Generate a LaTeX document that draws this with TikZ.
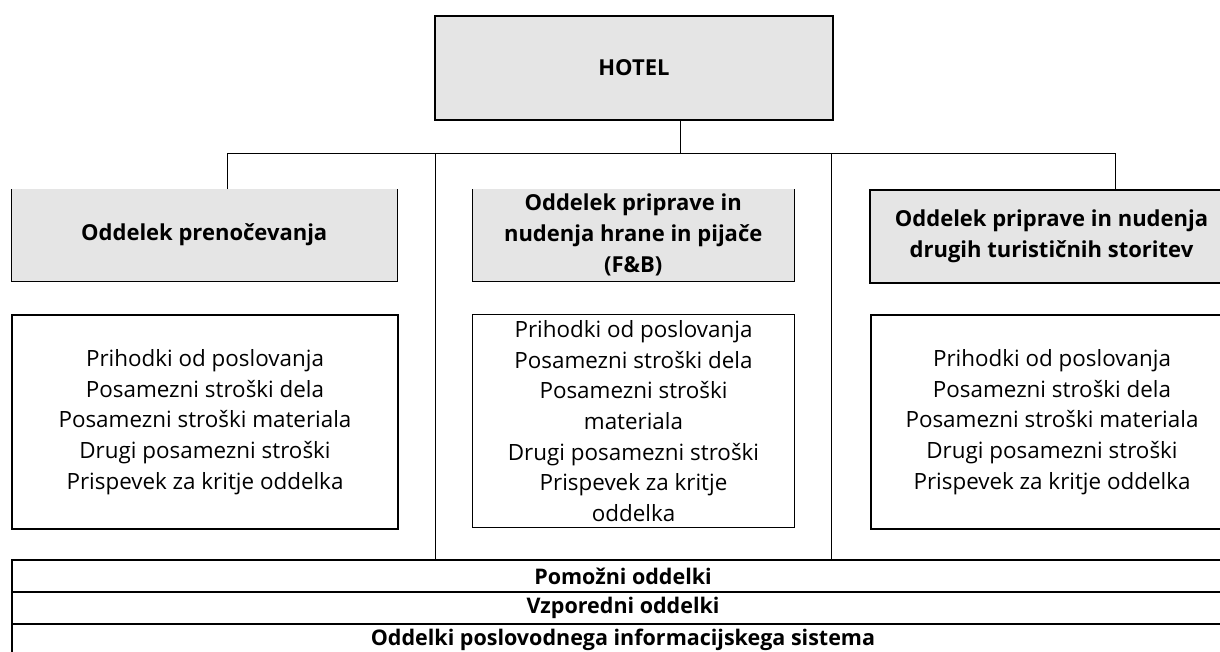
\documentclass[tikz,border=0pt]{standalone}
\usepackage{fontspec}
\setmainfont{Open Sans}
\usetikzlibrary{calc}
\definecolor{headgray}{gray}{0.9}
\tikzset{
  unitbox/.style   = {shape=rectangle, anchor=north west,
                      inner sep=0pt, align=center},
  headbox/.style   = {unitbox, fill=headgray,
                      font=\fontsize{22}{31}\selectfont\bfseries},
  headthick/.style = {headbox, draw, line width=2pt},
  listbox/.style   = {unitbox, draw, font=\fontsize{22.4}{30.6}\selectfont},
  listthick/.style = {listbox, line width=2pt},
  listthin/.style  = {listbox, line width=1pt},
  barbox/.style    = {unitbox, draw, line width=2pt,
                      minimum width=1222pt, minimum height=32pt,
                      font=\fontsize{21.5}{26}\selectfont\bfseries},
  link/.style      = {line width=1pt},
}

\begin{document}
\begin{tikzpicture}[x=1pt,y=-1pt]
  \useasboundingbox (0,0) rectangle (1220,651);
  \clip (0,0) rectangle (1220,651);

  % top
  \node (hotel) [headthick, minimum width=398pt, minimum height=104pt]
    at (434,15) {HOTEL};

  % departments
  \node (head1) [headbox, minimum width=386pt, minimum height=92pt]
    at (11,189) {Oddelek prenočevanja};
  \node (head2) [headbox, minimum width=322pt, minimum height=92pt]
    at (472,189) {Oddelek priprave in\\nudenja hrane in pijače\\(F\&B)};
  \node (head3) [headthick, minimum width=363pt, minimum height=93pt]
    at (869,189) {Oddelek priprave in nudenja\\drugih turističnih storitev};
  \draw[link] (head1.north west) -- (head1.south west)
              -- (head1.south east) -- (head1.north east);
  \draw[link] (head2.north west) -- (head2.south west)
              -- (head2.south east) -- (head2.north east);

  % cost lists
  \node (list1) [listthick, minimum width=386pt, minimum height=214pt]
    at (11,314) {Prihodki od poslovanja\\Posamezni stroški dela\\
      Posamezni stroški materiala\\Drugi posamezni stroški\\
      Prispevek za kritje oddelka};
  \node (list2) [listthin, minimum width=322pt, minimum height=213pt]
    at (472,314) {Prihodki od poslovanja\\Posamezni stroški dela\\
      Posamezni stroški\\materiala\\Drugi posamezni stroški\\
      Prispevek za kritje\\oddelka};
  \node (list3) [listthick, minimum width=362pt, minimum height=214pt]
    at (870,314) {Prihodki od poslovanja\\Posamezni stroški dela\\
      Posamezni stroški materiala\\Drugi posamezni stroški\\
      Prispevek za kritje oddelka};

  % bottom rows
  \node (pomozni)   [barbox] at (11,559) {Pomožni oddelki};
  \node (vzporedni) [barbox] at (11,591) {Vzporedni oddelki};
  \node (informac)  [barbox] at (11,623) {Oddelki poslovodnega informacijskega sistema};

  % connectors
  \coordinate (split)  at (680,153);
  \coordinate (drop1)  at (227,153);
  \coordinate (drop3)  at (1115,153);
  \coordinate (frameL) at (435,153);
  \coordinate (frameR) at (831,153);
  \draw[link] (hotel.south -| split) -- (split);
  \draw[link] (drop1 |- head1.north) -- (drop1) -- (drop3) -- (drop3 |- head3.north);
  \draw[link] (frameL) -- (frameL |- pomozni.north);
  \draw[link] (frameR) -- (frameR |- pomozni.north);
\end{tikzpicture}
\end{document}
